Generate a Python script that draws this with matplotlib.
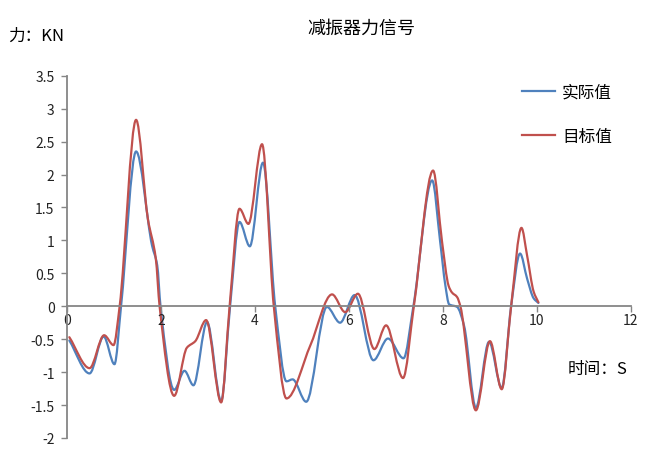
import numpy as np
import matplotlib
matplotlib.use('Agg')
import matplotlib.pyplot as plt
from matplotlib.path import Path
from matplotlib.patches import PathPatch
from matplotlib.lines import Line2D

plt.rcParams['font.family'] = ['Noto Sans CJK SC', 'DejaVu Sans']

title = '减振器力信号'
y_label = '力：KN'
x_label = '时间：S'
series_names = ['实际值', '目标值']
colors = ['#4F81BD', '#C0504D']

actual_t = [0.05, 0.48, 0.78, 1.01, 1.15, 1.47, 1.81, 1.92, 1.99, 2.28, 2.50, 2.69, 2.98,
            3.28, 3.47, 3.67, 3.89, 4.17, 4.43, 4.67, 4.80, 5.09, 5.53, 5.81, 6.12,
            6.52, 6.83, 7.16, 7.37, 7.77, 7.94, 8.05, 8.13, 8.30, 8.45, 8.70, 8.98, 9.25,
            9.45, 9.64, 9.79, 9.93, 10.03]
actual_f = [-0.52, -1.02, -0.46, -0.88, 0.0, 2.35, 0.92, 0.62, 0.0, -1.27, -0.98, -1.20, -0.24,
            -1.44, 0.0, 1.28, 0.91, 2.18, 0.0, -1.14, -1.11, -1.45, -0.01, -0.25, 0.17,
            -0.82, -0.49, -0.79, 0.0, 1.91, 0.98, 0.32, 0.03, -0.01, -0.30, -1.54, -0.54, -1.24,
            0.0, 0.80, 0.42, 0.12, 0.05]

target_t = [0.05, 0.48, 0.79, 0.99, 1.12, 1.47, 1.72, 1.89, 1.97, 2.28, 2.55, 2.73, 2.96,
            3.28, 3.46, 3.67, 3.86, 4.15, 4.40, 4.67, 5.18, 5.64, 5.92, 6.19,
            6.54, 6.79, 7.15, 7.38, 7.79, 7.98, 8.12, 8.19, 8.30, 8.37, 8.70, 9.00, 9.25,
            9.45, 9.67, 9.79, 9.93, 10.03]
target_f = [-0.47, -0.94, -0.44, -0.59, 0.0, 2.83, 1.33, 0.72, 0.0, -1.36, -0.63, -0.53, -0.21,
            -1.46, 0.0, 1.48, 1.25, 2.46, 0.0, -1.40, -0.59, 0.18, -0.09, 0.19,
            -0.65, -0.29, -1.09, 0.0, 2.06, 0.98, 0.31, 0.21, 0.14, 0.0, -1.58, -0.53, -1.26,
            0.0, 1.19, 0.77, 0.22, 0.06]

x_ticks = [0, 2, 4, 6, 8, 10, 12]
y_ticks = [-2, -1.5, -1, -0.5, 0, 0.5, 1, 1.5, 2, 2.5, 3, 3.5]


def smooth_path(xs, ys):
    """Bezier path through the points with shape-preserving (PCHIP) tangents."""
    xs = np.asarray(xs, float)
    ys = np.asarray(ys, float)
    n = len(xs)
    h = np.diff(xs)
    d = np.diff(ys) / h
    m = np.zeros(n)
    m[0] = d[0]
    m[-1] = d[-1]
    for i in range(1, n - 1):
        if d[i - 1] * d[i] <= 0:
            m[i] = 0.0
        else:
            w1 = 2 * h[i] + h[i - 1]
            w2 = h[i] + 2 * h[i - 1]
            m[i] = (w1 + w2) / (w1 / d[i - 1] + w2 / d[i])
    verts = [(xs[0], ys[0])]
    codes = [Path.MOVETO]
    for i in range(n - 1):
        verts += [(xs[i] + h[i] / 3, ys[i] + m[i] * h[i] / 3),
                  (xs[i + 1] - h[i] / 3, ys[i + 1] - m[i + 1] * h[i] / 3),
                  (xs[i + 1], ys[i + 1])]
        codes += [Path.CURVE4] * 3
    return Path(verts, codes)


fig = plt.figure(figsize=(6.55, 4.64), dpi=100)
ax = fig.add_axes([0.1023, 0.0539, 0.8610, 0.7808])

for t, f, c in [(actual_t, actual_f, colors[0]), (target_t, target_f, colors[1])]:
    ax.add_patch(PathPatch(smooth_path(t, f), fill=False, edgecolor=c, lw=1.6,
                           capstyle='round', joinstyle='round'))

ax.set_xlim(0, 12)
ax.set_ylim(-2, 3.5)
ax.set_xticks(x_ticks)
ax.set_yticks(y_ticks)
ax.set_xticklabels([f'{v:g}' for v in x_ticks])
ax.set_yticklabels([f'{v:g}' for v in y_ticks])

gray = '#868686'
for s in ['top', 'right']:
    ax.spines[s].set_visible(False)
ax.spines['left'].set_position(('data', 0))
ax.spines['bottom'].set_position(('data', 0))
for s in ['left', 'bottom']:
    ax.spines[s].set_color(gray)
    ax.spines[s].set_linewidth(1.3)
ax.tick_params(axis='both', colors=gray, labelcolor='#222222', labelsize=10,
               length=4, width=1.0, direction='out')
ax.tick_params(axis='x', pad=1)
ax.tick_params(axis='y', pad=5)

handles = [Line2D([], [], color=c, lw=1.6) for c in colors]
fig.legend(handles, series_names, loc='upper left', bbox_to_anchor=(0.774, 0.85),
           frameon=False, fontsize=12, handlelength=2.0, handletextpad=0.4,
           labelspacing=1.65)

fig.text(0.551, 0.938, title, ha='center', va='center', fontsize=13)
fig.text(0.012, 0.922, y_label, ha='left', va='center', fontsize=12)
fig.text(0.867, 0.203, x_label, ha='left', va='center', fontsize=12)

fig.savefig('out.png', dpi=100)
